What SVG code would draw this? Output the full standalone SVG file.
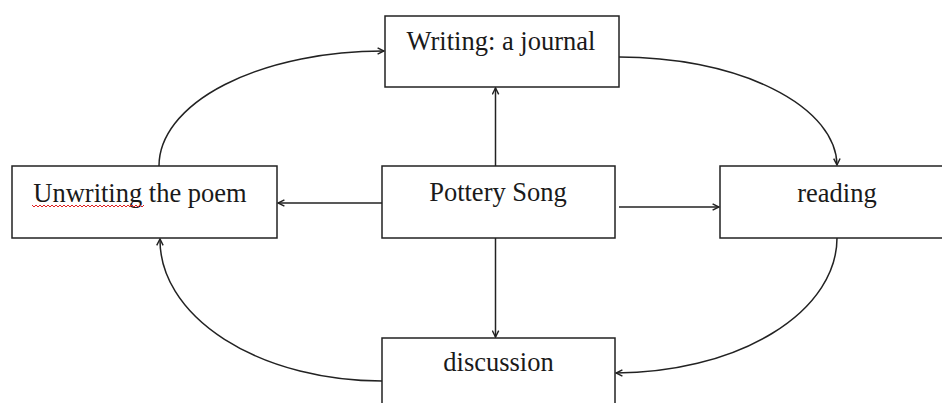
<svg xmlns="http://www.w3.org/2000/svg" width="942" height="403" viewBox="0 0 942 403">
<style>
.box{fill:#fff;stroke:#222;stroke-width:1.5}
.lbl{font-family:"Liberation Serif","Times New Roman",serif;font-size:26.5px;fill:#1a1a1a;text-anchor:middle}
.con{fill:none;stroke:#222;stroke-width:1.5}
</style>
<defs>
<marker id="arr" viewBox="0 0 10 10" refX="9" refY="5" markerWidth="8" markerHeight="8" markerUnits="userSpaceOnUse" orient="auto">
<path d="M1,1 L9,5 L1,9" fill="none" stroke="#222" stroke-width="1.8"/>
</marker>
</defs>
<rect width="942" height="403" fill="#fff"/>
<g id="node-top"><rect class="box" x="385" y="16" width="234" height="71"/><text class="lbl" x="501" y="50">Writing: a journal</text></g>
<g id="node-center"><rect class="box" x="382" y="166" width="233" height="72"/><text class="lbl" x="498" y="201">Pottery Song</text></g>
<g id="node-left"><rect class="box" x="12" y="166" width="265" height="72"/><text class="lbl" x="140" y="202">Unwriting the poem</text><path d="M32,205 l2,2 l2,-2 l2,2 l2,-2 l2,2 l2,-2 l2,2 l2,-2 l2,2 l2,-2 l2,2 l2,-2 l2,2 l2,-2 l2,2 l2,-2 l2,2 l2,-2 l2,2 l2,-2 l2,2 l2,-2 l2,2 l2,-2 l2,2 l2,-2 l2,2 l2,-2 l2,2 l2,-2 l2,2 l2,-2 l2,2 l2,-2 l2,2 l2,-2 l2,2 l2,-2 l2,2 l2,-2 l2,2 l2,-2 l2,2 l2,-2 l2,2 l2,-2 l2,2 l2,-2 l2,2 l2,-2 l2,2 l2,-2 l2,2 l2,-2 l2,2 l2,-2" fill="none" stroke="#e02020" stroke-width="1"/></g>
<g id="node-right"><rect class="box" x="720" y="166" width="240" height="72"/><text class="lbl" x="837" y="202">reading</text></g>
<g id="node-bottom"><rect class="box" x="382" y="338" width="233" height="80"/><text class="lbl" x="498.5" y="371">discussion</text></g>
<g id="connectors">
<line class="con" x1="495.5" y1="166" x2="495.5" y2="88" marker-end="url(#arr)"/>
<line class="con" x1="382" y1="203" x2="278" y2="203" marker-end="url(#arr)"/>
<line class="con" x1="619" y1="207" x2="719" y2="207" marker-end="url(#arr)"/>
<line class="con" x1="495.5" y1="238" x2="495.5" y2="337" marker-end="url(#arr)"/>
<path class="con" d="M619,57 A218,109 0 0 1 837,165" marker-end="url(#arr)"/>
<path class="con" d="M159,166 A224,115 0 0 1 384,51" marker-end="url(#arr)"/>
<path class="con" d="M382,381 A222,141 0 0 1 160,239" marker-end="url(#arr)"/>
<path class="con" d="M837,238 A222,135 0 0 1 616,373" marker-end="url(#arr)"/>
</g>
</svg>
